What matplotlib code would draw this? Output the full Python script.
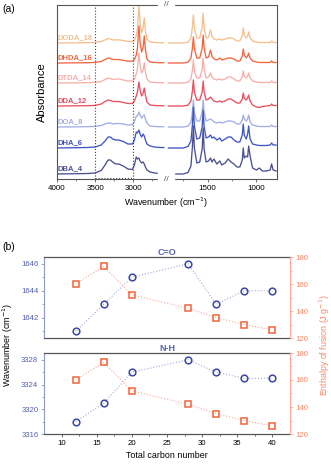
import matplotlib
matplotlib.use("Agg")
import matplotlib.pyplot as plt
import numpy as np

plt.rcParams["font.family"] = ["Liberation Sans", "DejaVu Sans"]

W, H = 331, 465

# ---- (a) FTIR spectra, vertices ----
samples = ["DODA_18", "DHDA_16", "DTDA_14", "DDA_12", "DOA_8", "DHA_6", "DBA_4"]
colors = ["#F5C08F", "#F3663F", "#F8AFAA", "#EA4F5E", "#A3AEE6", "#3E55C6", "#4B5190"]

wn_high = [4000, 3600, 3500, 3420, 3370, 3330, 3300, 3270, 3230, 3190,
           3130, 3070, 3010, 2985, 2960, 2945, 2925, 2910, 2890, 2870,
           2855, 2840, 2820, 2780, 2720, 2650, 2600]
abs_high = {
    "DODA_18": [0, 0.3, 0.6, 1.5, 3, 4.5, 4, 3, 3, 3.2,
                2.5, 1.5, 1.5, 3, 7, 14, 37, 20, 10, 15,
                25, 12, 4, 1, 0.5, 0.3, 0.3],
    "DHDA_16": [0, 0.3, 0.6, 1.5, 3.5, 5, 4.5, 3.5, 3.5, 3.5,
                2.8, 1.8, 1.8, 3.5, 8, 15, 37, 21, 11, 16,
                27, 13, 4, 1, 0.5, 0.3, 0.3],
    "DTDA_14": [0, 0.3, 0.6, 1.5, 3.5, 5, 4.5, 3.5, 4, 4,
                3, 2, 2, 4, 9, 14, 30, 18, 10, 13,
                20, 11, 4, 1, 0.5, 0.3, 0.3],
    "DDA_12": [0, 0.3, 0.6, 2, 4.5, 6, 5.5, 4.5, 4.5, 4.5,
               3.5, 2.5, 2.5, 5, 10, 14, 24, 16, 10, 13,
               18, 11, 4, 1, 0.5, 0.3, 0.3],
    "DOA_8": [0, 0.3, 0.6, 1.5, 3, 4, 4, 3, 3.5, 3.5,
              3, 2, 2.5, 5, 11, 11, 15, 12, 9, 11,
              12, 8, 4, 1, 0.5, 0.3, 0.3],
    "DHA_6": [0, 0.5, 1, 3, 7, 11, 11, 9, 8, 8,
              6.5, 4, 4, 8, 16, 15, 18, 14, 11, 14,
              12, 8, 4, 2, 1, 0.5, 0.5],
    "DBA_4": [0, 0.5, 1, 3.5, 9, 14, 14, 12, 10, 10,
              8, 5, 4.5, 9, 17, 15, 16, 13, 11, 12,
              10, 7, 4, 2, 1, 0.5, 0.5],
}

wn_low = [1900, 1750, 1700, 1670, 1655, 1645, 1635, 1610, 1580, 1555,
          1545, 1535, 1515, 1490, 1470, 1455, 1435, 1405, 1375, 1355,
          1320, 1290, 1260, 1230, 1200, 1170, 1145, 1135, 1125, 1105,
          1090, 1080, 1065, 1040, 1000, 970, 940, 900, 860, 845,
          830, 800]
abs_low = {
    "DODA_18": [0, 0, 0.8, 5, 16, 28, 15, 5, 5, 16,
                30, 16, 5, 6, 13, 7, 4, 3, 4, 3,
                4, 5, 5, 4, 2, 2, 7, 15, 8, 5,
                7, 11, 5, 2, 1, 0.5, 0.5, 0.5, 0.5, 2,
                0.5, 0.5],
    "DHDA_16": [0, 0, 0.8, 5, 15, 26, 14, 5, 5, 15,
                28, 15, 5, 6, 13, 7, 4, 3, 5, 3,
                4, 5, 5, 4, 2, 2, 7, 14, 8, 5,
                7, 10, 5, 2, 1, 0.5, 0.5, 0.5, 0.5, 2,
                0.5, 0.5],
    "DTDA_14": [0, 0, 0.8, 4, 13, 23, 12, 5, 5, 14,
                25, 14, 5, 6, 10, 6, 4, 3, 4, 3,
                4, 6, 6, 4, 2, 2, 6, 12, 7, 5,
                7, 10, 5, 2, 1, 0.5, 0.5, 0.5, 0.5, 2,
                0.5, 0.5],
    "DDA_12": [0, 0, 0.8, 5, 15, 26, 14, 6, 6, 14,
               25, 14, 6, 7, 9, 7, 5, 4, 5, 4,
               5, 7, 7, 5, 3, 3, 7, 13, 8, 6,
               8, 11, 5, 1, -1, -1.5, -0.5, 0, 0.5, 2,
               0.5, 0.5],
    "DOA_8": [0, 0, 0.8, 5, 15, 27, 14, 6, 6, 15,
              27, 15, 6, 7, 8, 7, 5, 4, 5, 4,
              5, 6, 6, 5, 3, 3, 7, 12, 8, 6,
              8, 12, 5, 2, 1, 0.5, 0.5, 0.5, 0.5, 2,
              0.5, 0.5],
    "DHA_6": [0, 0, 1.5, 7, 23, 41, 22, 9, 10, 21,
              38, 21, 10, 11, 13, 10, 11, 8, 10, 7,
              9, 11, 11, 8, 6, 6, 13, 24, 13, 9,
              14, 22, 9, 4, 3, 2.5, 2.5, 2.5, 3, 5,
              3, 3],
    "DBA_4": [0, 0, 1.5, 8, 27, 48, 26, 11, 12, 25,
              46, 25, 12, 13, 16, 12, 15, 10, 13, 9,
              11, 15, 12, 10, 7, 7, 14, 26, 16, 18,
              17, 28, 18, 6, 4, 6, 3, 3, 4, 10,
              4, 3],
}

# ---- (b) peak position vs total carbon number ----
carbon = [12, 16, 20, 28, 32, 36, 40]
co_wn = [1641, 1643, 1645, 1646, 1643, 1644, 1644]
nh_wn = [3318, 3321, 3326, 3328, 3326, 3325, 3325]
enthalpy = [160, 173, 152, 142, 135, 130, 126]

# layout (not data): vertical offset of each trace
offsets = [136, 116, 96, 73, 52, 31, 5]

fig = plt.figure(figsize=(W / 100, H / 100), dpi=100)


def rect(l, t, r, b):
    return [l / W, 1 - b / H, (r - l) / W, (b - t) / H]


FR = "#555555"
axL = fig.add_axes(rect(57, 5, 166, 179))
axR = fig.add_axes(rect(166, 5, 277, 179))
for ax, lim in ((axL, (4000, 2570)), (axR, (1925, 790))):
    ax.set_xlim(*lim)
    ax.set_ylim(0, 174)
    ax.set_yticks([])
    for s in ax.spines.values():
        s.set_color(FR)
        s.set_linewidth(0.8)
    ax.tick_params(axis="x", direction="out", length=2.5, width=0.6, color=FR,
                   labelsize=5.8, pad=1.5)
    ax.tick_params(axis="x", which="minor", length=1.5, width=0.5, color=FR)
axL.spines["right"].set_visible(False)
axR.spines["left"].set_visible(False)
axL.set_xticks([4000, 3500, 3000])
axL.set_xticks([3750, 3250, 2750], minor=True)
axR.set_xticks([1500, 1000])
axR.set_xticks([1750, 1250], minor=True)

for name, c, off in zip(samples, colors, offsets):
    axL.plot(wn_high, np.array(abs_high[name]) + off, color=c, lw=0.95)
    axR.plot(wn_low, np.array(abs_low[name]) + off, color=c, lw=0.95)
    axL.text(3990, off + 5, name, color=c, fontsize=5.5, fontweight="bold",
             ha="left", va="center")

# dotted box 3500-3000
for xv in (3500, 3000):
    axL.axvline(xv, color="#444444", ls=":", lw=0.8)
axL.plot([3500, 3000], [1.5, 1.5], color="#444444", ls=":", lw=0.8)

# axis break marks
for yb in (5, 179):
    fig.text(166 / W, 1 - yb / H, "//", fontsize=6, color=FR, ha="center",
             va="center", backgroundcolor="white")

fig.text(166 / W, 1 - 203 / H, "Wavenumber (cm$^{-1}$)", fontsize=6.4,
         ha="center", va="center")
fig.text(42 / W, 1 - 92 / H, "Absorbance", fontsize=8, rotation=90,
         ha="center", va="center")
fig.text(2 / W, 1 - 9 / H, "(a)", fontsize=7.5, ha="left", va="center")

# ---- panel (b) ----
BLUE = "#3B47A3"
BLUE_T = "#5560B0"
BLUE_SP = "#8E96C8"
SAL = "#F0643C"
SAL_T = "#F5876A"
SAL_L = "#F8A894"


def panel(box, yvals, ylim, yticks, yminor, title, show_x):
    ax = fig.add_axes(rect(*box))
    ax2 = ax.twinx()
    ax.plot(carbon, yvals, ls=":", lw=0.8, color="#A3AAE0", marker="o",
            ms=4.8, mfc="none", mec=BLUE, mew=1.1, zorder=3)
    ax2.plot(carbon, enthalpy, ls=":", lw=0.8, color=SAL_L, marker="s",
             ms=4.3, mfc="none", mec=SAL, mew=1.1, zorder=3)
    ax.set_xlim(7.5, 42.5)
    ax.set_ylim(*ylim)
    ax2.set_ylim(120, 180)
    ax.set_yticks(yticks)
    ax.set_yticks(yminor, minor=True)
    ax2.set_yticks([120, 140, 160, 180])
    ax2.set_yticks([130, 150, 170], minor=True)
    ax.set_xticks([10, 15, 20, 25, 30, 35, 40])
    ax.set_xticks([12.5, 17.5, 22.5, 27.5, 32.5, 37.5], minor=True)
    for s in ("top", "bottom"):
        ax.spines[s].set_color(FR)
        ax.spines[s].set_linewidth(0.9)
    ax.spines["left"].set_color(BLUE_SP)
    ax.spines["left"].set_linewidth(0.8)
    ax.spines["right"].set_visible(False)
    for s in ("top", "bottom", "left"):
        ax2.spines[s].set_visible(False)
    ax2.spines["right"].set_color(SAL_L)
    ax2.spines["right"].set_linewidth(0.8)
    ax.tick_params(axis="y", which="both", direction="out", color=BLUE_SP,
                   labelcolor=BLUE_T, labelsize=5.6, pad=1.5, width=0.6)
    ax.tick_params(axis="y", which="major", length=2.5)
    ax.tick_params(axis="y", which="minor", length=1.5)
    ax2.tick_params(axis="y", which="both", direction="out", color=SAL_L,
                    labelcolor=SAL_T, labelsize=5.6, pad=1.5, width=0.6)
    ax2.tick_params(axis="y", which="major", length=2.5)
    ax2.tick_params(axis="y", which="minor", length=1.5)
    if show_x:
        ax.tick_params(axis="x", which="both", direction="out", color=FR,
                       labelsize=5.6, pad=1.5, width=0.6)
        ax.tick_params(axis="x", which="major", length=2.5)
        ax.tick_params(axis="x", which="minor", length=1.5)
    else:
        ax.tick_params(axis="x", which="both", bottom=False, labelbottom=False)
    ax.set_title(title, fontsize=6.5, fontweight="bold", color=BLUE_T, pad=1.5)
    return ax


panel((44, 257, 290, 338), co_wn, (1640.5, 1646.5), [1642, 1644, 1646],
      [1641, 1643, 1645], "C=O", False)
panel((44, 353, 290, 434), nh_wn, (3316, 3329.1), [3316, 3320, 3324, 3328],
      [3318, 3322, 3326], "N-H", True)

fig.text(2 / W, 1 - 247 / H, "(b)", fontsize=7.5, ha="left", va="center")
fig.text(8 / W, 1 - 345 / H, "Wavenumber (cm$^{-1}$)", fontsize=6.4,
         rotation=90, ha="center", va="center")
fig.text(325 / W, 1 - 345 / H, "Enthalpy of fusion (J g$^{-1}$)", fontsize=6.4,
         rotation=90, ha="center", va="center", color=SAL_T)
fig.text(167 / W, 1 - 455 / H, "Total carbon number", fontsize=6.4,
         ha="center", va="center")

fig.savefig("out.png", dpi=100)
